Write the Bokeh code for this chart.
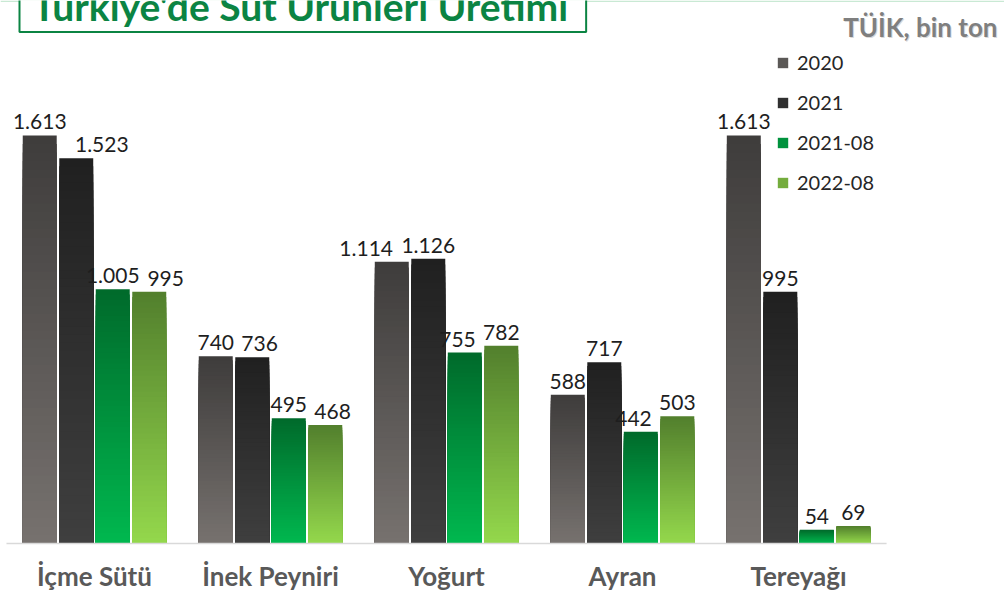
from bokeh.plotting import figure
from bokeh.models import Range1d, Label, Legend, LegendItem, ColumnDataSource, Span
from bokeh.core.properties import value
from bokeh.embed import file_html
from bokeh.resources import INLINE

# ---- data ----
categories = ["İçme Sütü", "İnek Peyniri", "Yoğurt", "Ayran", "Tereyağı"]
series_names = ["2020", "2021", "2021-08", "2022-08"]
v2020 = [1613, 740, 1114, 588, 1613]
v2021 = [1523, 736, 1126, 717, 995]
v2021_08 = [1005, 495, 755, 442, 54]
v2022_08 = [995, 468, 782, 503, 69]
series_values = [v2020, v2021, v2021_08, v2022_08]

title_text = "Türkiye'de Süt Ürünleri Üretimi"
source_text = "TÜİK, bin ton"

# ---- styles ----
top_colors = ["#3e3c3b", "#202020", "#006a2b", "#527f2d"]
bottom_colors = ["#77726f", "#3f3f3f", "#00b84f", "#94d84c"]
GREEN = "#0b8443"

W, H = 1004, 594
BORDER_BOTTOM = 46
FRAME_H = H - BORDER_BOTTOM
X_START, X_END = -0.534, 5.170
Y_START, Y_END = -19.8, 2146.7
PITCH = 0.2074
BAR_W = 0.193
N_SEG = 48


def hex2rgb(h):
    return tuple(int(h[i:i + 2], 16) for i in (1, 3, 5))


def mix(c_bottom, c_top, t):
    a, b = hex2rgb(c_bottom), hex2rgb(c_top)
    return "#%02x%02x%02x" % tuple(round(a[i] + (b[i] - a[i]) * t) for i in range(3))


def fmt(v):
    return f"{v:,}".replace(",", ".")


p = figure(width=W, height=H, output_backend="svg", toolbar_location=None,
           x_range=Range1d(X_START, X_END), y_range=Range1d(Y_START, Y_END),
           y_axis_location=None, min_border_left=0, min_border_right=0,
           min_border_top=0, min_border_bottom=BORDER_BOTTOM)
p.outline_line_color = None
p.grid.visible = False
p.background_fill_color = "white"
p.border_fill_color = "white"

px_x = W / (X_END - X_START)
px_y = FRAME_H / (Y_END - Y_START)

# faint top rule
p.add_layout(Span(location=Y_END - 0.7 / px_y, dimension="width",
                  line_color="#c9e9d4", line_width=1.5))

# ---- gradient bars (overlapping slices computed from each value) ----
bar_renderers = []
for s, vals in enumerate(series_values):
    off = (s - 1.5) * PITCH
    bx, btop, bcol = [], [], []
    for i, v in enumerate(vals):
        for k in range(N_SEG, 0, -1):
            bx.append(i + off)
            btop.append(v * k / N_SEG)
            bcol.append(mix(bottom_colors[s], top_colors[s], (k - 0.5) / N_SEG))
    src = ColumnDataSource(dict(x=bx, top=btop, color=bcol))
    r = p.vbar(x="x", top="top", bottom=0, width=BAR_W, fill_color="color",
               line_color=None, source=src)
    bar_renderers.append(r)

# baseline
p.segment(x0=[-0.5], y0=[0], x1=[len(categories) - 0.5], y1=[0],
          line_color="#d9d9d9", line_width=1.5)

# ---- data labels with simple overlap avoidance ----
FS = 21


def text_w(s):
    return sum(0.27 * FS if ch == "." else 0.60 * FS for ch in s)


lx, ly, lt, lo = [], [], [], []
for i in range(len(categories)):
    labs = []
    for s, vals in enumerate(series_values):
        v = vals[i]
        labs.append(dict(c=(i + (s - 1.5) * PITCH) * px_x, t=v * px_y,
                         w=text_w(fmt(v)), off=0.0, v=v, x=i + (s - 1.5) * PITCH))
    for _ in range(4):
        for j in range(len(labs) - 1):
            a, b = labs[j], labs[j + 1]
            if abs(a["t"] - b["t"]) < 24:
                need = (a["w"] + b["w"]) / 2 + 6 - ((b["c"] + b["off"]) - (a["c"] + a["off"]))
                if need > 0:
                    if b["v"] <= a["v"]:
                        b["off"] += need
                    else:
                        a["off"] -= need
    for L in labs:
        lx.append(L["x"]); ly.append(L["v"]); lt.append(fmt(L["v"])); lo.append(L["off"])

lsrc = ColumnDataSource(dict(x=lx, y=ly, text=lt, xo=lo))
p.text(x="x", y="y", text="text", x_offset="xo", y_offset=-6, source=lsrc,
       text_align="center", text_baseline="bottom",
       text_font=value("Lato"), text_font_size=f"{FS}px", text_color="#1e1e1e")

# ---- x axis ----
p.xaxis.ticker = list(range(len(categories)))
p.xaxis.major_label_overrides = {i: c for i, c in enumerate(categories)}
p.xaxis.axis_line_color = None
p.xaxis.major_tick_line_color = None
p.xaxis.minor_tick_line_color = None
p.xaxis.major_tick_out = 0
p.xaxis.major_tick_in = 0
p.xaxis.major_label_standoff = 11
p.xaxis.major_label_text_font = "Lato"
p.xaxis.major_label_text_font_style = "bold"
p.xaxis.major_label_text_font_size = "26px"
p.xaxis.major_label_text_color = "#595959"

# ---- legend ----
items = [LegendItem(label=name, renderers=[bar_renderers[s]], index=N_SEG // 2)
         for s, name in enumerate(series_names)]
legend = Legend(items=items, location=(776, 354), orientation="vertical",
                glyph_width=13, glyph_height=13, label_height=20, spacing=16,
                padding=0, margin=0, border_line_color=None, background_fill_alpha=0,
                label_text_font="Lato", label_text_font_size="20px",
                label_text_color="#262626", label_standoff=8)
p.add_layout(legend)

# ---- title box and source ----
title = Label(x=19, y=FRAME_H + 3, x_units="screen", y_units="screen", text=title_text,
              text_font="Lato", text_font_style="bold", text_font_size="39px",
              text_color=GREEN, text_baseline="alphabetic",
              border_line_color=GREEN, border_line_width=2,
              background_fill_color="white",
              padding=dict(left=13, right=18, top=20, bottom=3))
p.add_layout(title)

shadow = Label(x=998, y=FRAME_H - 27.5, x_units="screen", y_units="screen", text=source_text,
               text_font="Lato", text_font_style="bold", text_font_size="26px",
               text_color="#c8c8c8", text_alpha=0.7, text_align="right", text_baseline="alphabetic")
source = Label(x=997, y=FRAME_H - 26, x_units="screen", y_units="screen", text=source_text,
               text_font="Lato", text_font_style="bold", text_font_size="26px",
               text_color="#7f7f7f", text_align="right", text_baseline="alphabetic")
p.add_layout(shadow)
p.add_layout(source)

open("out.html", "w").write(file_html(p, INLINE))
